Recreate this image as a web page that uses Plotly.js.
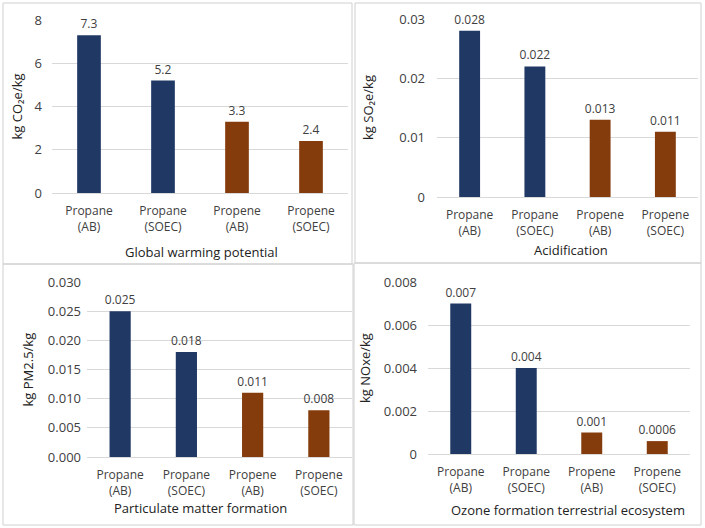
<!DOCTYPE html>
<html>
<head>
<meta charset="utf-8">
<script src="https://cdn.plot.ly/plotly-3.0.1.min.js"></script>
<style>html,body{margin:0;padding:0;background:#fff;}#chart{width:705px;height:528px;}</style>
</head>
<body>
<div id="chart"></div>
<script>
// ---- data ----
var categories = ["Propane<br>(AB)", "Propane<br>(SOEC)", "Propene<br>(AB)", "Propene<br>(SOEC)"];
var gwpValues = [7.3, 5.2, 3.3, 2.4];
var gwpLabels = ["7.3", "5.2", "3.3", "2.4"];
var acidValues = [0.028, 0.022, 0.013, 0.011];
var acidLabels = ["0.028", "0.022", "0.013", "0.011"];
var pmValues = [0.025, 0.018, 0.011, 0.008];
var pmLabels = ["0.025", "0.018", "0.011", "0.008"];
var ozoneValues = [0.007, 0.004, 0.001, 0.0006];
var ozoneLabels = ["0.007", "0.004", "0.001", "0.0006"];
var panelTitles = ["Global warming potential", "Acidification", "Particulate matter formation", "Ozone formation terrestrial ecosystem"];
var yTitles = ["kg CO\u2082e/kg", "kg SO\u2082e/kg", "kg PM2.5/kg", "kg NOxe/kg"];

// ---- styling ----
var W = 705, H = 528;
function fx(p){ return p / W; }
function fy(p){ return 1 - p / H; }
var barColors = ["#203864", "#203864", "#843C0C", "#843C0C"];
var textColor = "#404040";
var gridColor = "#D9D9D9";
var FONT = "Open Sans, sans-serif";

var panels = [
  {vals: gwpValues, labels: gwpLabels, x0: 52, x1: 348, yTop: 20, yBot: 193, range: [0, 8], dtick: 2, fmt: "", standoff: 9, yt: 17, xt: 252, xc: 201},
  {vals: acidValues, labels: acidLabels, x0: 437, x1: 698, yTop: 19, yBot: 197, range: [0, 0.03], dtick: 0.01, fmt: "", standoff: 11, yt: 368, xt: 250, xc: 571},
  {vals: pmValues, labels: pmLabels, x0: 87, x1: 352, yTop: 282, yBot: 457, range: [0, 0.03], dtick: 0.005, fmt: ".3f", standoff: 5, yt: 27, xt: 508, xc: 200},
  {vals: ozoneValues, labels: ozoneLabels, x0: 428, x1: 690, yTop: 282, yBot: 454, range: [0, 0.008], dtick: 0.002, fmt: "", standoff: 10, yt: 365, xt: 510, xc: 568}
];

var traces = [];
var layout = {
  width: W, height: H,
  margin: {l: 0, r: 0, t: 0, b: 0},
  paper_bgcolor: "#ffffff",
  plot_bgcolor: "#ffffff",
  showlegend: false,
  bargap: 0.68,
  font: {family: FONT, size: 12, color: textColor},
  annotations: [],
  shapes: []
};

panels.forEach(function(p, i){
  var n = i === 0 ? "" : String(i + 1);
  traces.push({
    type: "bar",
    x: categories,
    y: p.vals,
    text: p.labels,
    textposition: "outside",
    constraintext: "none",
    textfont: {family: FONT, size: 12, color: textColor},
    cliponaxis: false,
    marker: {color: barColors},
    hoverinfo: "x+y",
    xaxis: "x" + n,
    yaxis: "y" + n
  });
  layout["xaxis" + n] = {
    domain: [fx(p.x0), fx(p.x1)],
    anchor: "y" + n,
    type: "category",
    showgrid: false, zeroline: false, showline: false,
    ticks: "",
    tickfont: {family: FONT, size: 12, color: textColor},
    ticklabelstandoff: 9,
    fixedrange: true
  };
  layout["yaxis" + n] = {
    domain: [fy(p.yBot), fy(p.yTop)],
    anchor: "x" + n,
    range: p.range,
    dtick: p.dtick,
    tick0: 0,
    tickformat: p.fmt,
    showgrid: true, gridcolor: gridColor, gridwidth: 1,
    zeroline: true, zerolinecolor: gridColor, zerolinewidth: 1,
    showline: false,
    ticks: "",
    ticklabelstandoff: p.standoff,
    tickfont: {family: FONT, size: 13, color: textColor},
    fixedrange: true
  };
  layout.annotations.push({
    xref: "paper", yref: "paper",
    x: fx(p.yt), y: fy((p.yTop + p.yBot) / 2),
    text: yTitles[i], textangle: -90, showarrow: false,
    xanchor: "center", yanchor: "middle",
    font: {family: FONT, size: 13, color: "#222222"}
  });
  layout.annotations.push({
    xref: "paper", yref: "paper",
    x: fx(p.xc), y: fy(p.xt),
    text: panelTitles[i], showarrow: false,
    xanchor: "center", yanchor: "middle",
    font: {family: FONT, size: 13, color: "#222222"}
  });
});

var borders = [[3, 3, 352, 264], [355, 3, 701, 263], [3, 264, 353, 525], [354, 263, 701, 525]];
borders.forEach(function(b){
  layout.shapes.push({
    type: "rect", xref: "paper", yref: "paper",
    x0: fx(b[0]), x1: fx(b[2]), y0: fy(b[3]), y1: fy(b[1]),
    line: {color: "#D0D0D0", width: 1}, fillcolor: "rgba(0,0,0,0)"
  });
});

Plotly.newPlot("chart", traces, layout, {displayModeBar: false, staticPlot: true});
</script>
</body>
</html>
